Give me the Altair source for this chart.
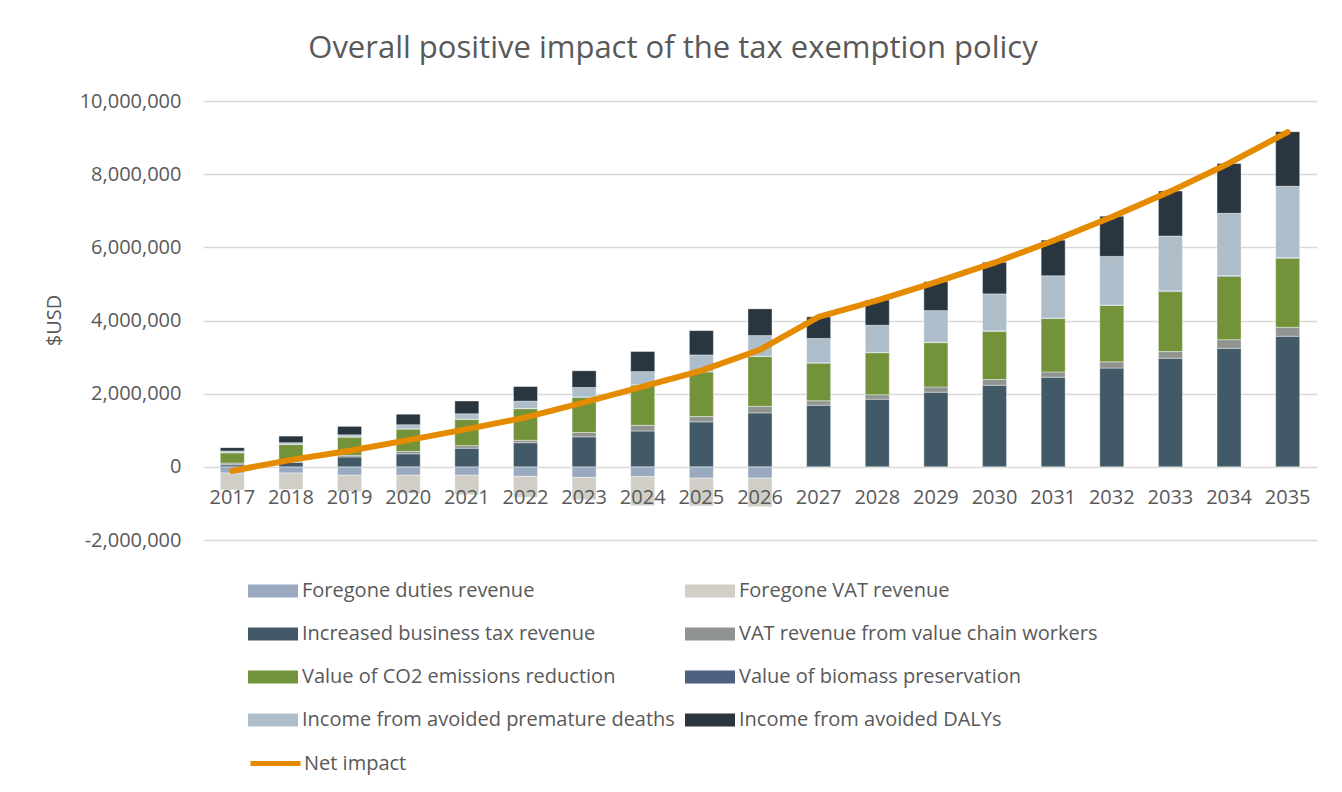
import altair as alt
import pandas as pd

years = [str(y) for y in range(2017, 2036)]

series_names = [
    "Foregone duties revenue",
    "Foregone VAT revenue",
    "Increased business tax revenue",
    "VAT revenue from value chain workers",
    "Value of CO2 emissions reduction",
    "Value of biomass preservation",
    "Income from avoided premature deaths",
    "Income from avoided DALYs",
]
series_colors = ["#9AA9C0", "#D0CEC6", "#425968", "#8F9490", "#72933A", "#4F6180", "#ADBECA", "#29353F"]
# legend reading order (filled column by column, two columns)
legend_order = [0, 2, 4, 6, 1, 3, 5, 7]

foregone_duties = [-170000, -170000, -230000, -230000, -230000, -260000, -290000, -270000, -310000, -310000,
                   0, 0, 0, 0, 0, 0, 0, 0, 0]
foregone_vat = [-460000, -450000, -450000, -500000, -530000, -570000, -610000, -790000, -760000, -780000,
                0, 0, 0, 0, 0, 0, 0, 0, 0]
business_tax = [55000, 120000, 270000, 355000, 510000, 660000, 820000, 980000, 1230000, 1475000,
                1685000, 1850000, 2040000, 2230000, 2450000, 2700000, 2970000, 3240000, 3570000]
vat_workers = [50000, 30000, 45000, 70000, 70000, 65000, 120000, 155000, 145000, 180000,
               120000, 120000, 145000, 155000, 145000, 170000, 180000, 235000, 245000]
co2_reduction = [280000, 460000, 500000, 610000, 720000, 865000, 965000, 1100000, 1220000, 1360000,
                 1030000, 1150000, 1210000, 1320000, 1460000, 1540000, 1640000, 1730000, 1885000]
biomass = [5000, 5000, 5000, 5000, 5000, 5000, 5000, 8000, 8000, 8000,
           10000, 10000, 10000, 12000, 12000, 12000, 20000, 25000, 20000]
premature_deaths = [45000, 45000, 55000, 110000, 145000, 200000, 260000, 360000, 455000, 565000,
                    665000, 740000, 865000, 1010000, 1155000, 1330000, 1500000, 1700000, 1950000]
dalys = [90000, 180000, 230000, 290000, 350000, 400000, 455000, 550000, 665000, 730000,
         590000, 690000, 790000, 865000, 975000, 1100000, 1230000, 1360000, 1490000]
net_impact = [-110000, 190000, 440000, 730000, 1030000, 1350000, 1760000, 2190000, 2630000, 3200000,
              4100000, 4550000, 5050000, 5580000, 6180000, 6830000, 7530000, 8300000, 9150000]

y_ticks = [-2000000, 0, 2000000, 4000000, 6000000, 8000000, 10000000]

all_series = [foregone_duties, foregone_vat, business_tax, vat_workers, co2_reduction,
              biomass, premature_deaths, dalys]
rows = []
for i, (name, vals) in enumerate(zip(series_names, all_series)):
    for yr, v in zip(years, vals):
        if v != 0:
            rows.append({"year": yr, "series": name, "order": i, "value": v})
bars_df = pd.DataFrame(rows)
line_df = pd.DataFrame({"year": years, "value": net_impact, "label": ["Net impact"] * len(years)})

FONT = "Open Sans"
TXT = "#595959"
W, H = 1114, 439
FS = 20

x_enc = alt.X(
    "year:N",
    sort=years,
    scale=alt.Scale(paddingInner=0.59, paddingOuter=0.295),
    axis=alt.Axis(
        title=None, labelAngle=0, domain=False, ticks=False, grid=False,
        offset=-H / 6, labelPadding=21, labelFontSize=FS, labelColor=TXT,
        labelFont=FONT, zindex=1,
    ),
)

bars = alt.Chart(bars_df).mark_bar(stroke="white", strokeWidth=0.4).encode(
    x=x_enc,
    y=alt.Y(
        "sum(value):Q",
        stack="zero",
        scale=alt.Scale(domain=[-2000000, 10000000], nice=False),
        axis=alt.Axis(
            values=y_ticks, labelExpr="replace(format(datum.value, ',d'), '\u2212', '-')",
            title="$USD", grid=True, gridColor="#D9D9D9",
            gridWidth=1.5, domain=False, ticks=False, labelPadding=22, labelFontSize=FS,
            labelColor=TXT, labelFont=FONT, titleFont=FONT, titleFontSize=FS,
            titleColor=TXT, titleFontWeight="normal", titleAngle=270,
            titleX=-149, titleY=219, titleAlign="center", titleBaseline="middle",
        ),
    ),
    color=alt.Color(
        "series:N",
        scale=alt.Scale(domain=[series_names[k] for k in legend_order],
                        range=[series_colors[k] for k in legend_order]),
        legend=alt.Legend(
            title=None, orient="none", legendX=45, legendY=465, columns=2,
            symbolType="M-1,-0.26H1V0.26H-1Z", symbolSize=2500, symbolStrokeWidth=0,
            labelFontSize=FS, labelColor=TXT, labelFont=FONT, labelLimit=600,
            rowPadding=8, columnPadding=10, labelOffset=4, padding=0,
        ),
    ),
    order=alt.Order("order:Q"),
)

line = alt.Chart(line_df).mark_line(strokeWidth=6, strokeCap="round", strokeJoin="round").encode(
    x=alt.X("year:N", sort=years),
    y=alt.Y("value:Q"),
    stroke=alt.Stroke(
        "label:N",
        scale=alt.Scale(domain=["Net impact"], range=["#E48B00"]),
        legend=alt.Legend(
            title=None, orient="none", legendX=45, legendY=635,
            symbolType="stroke", symbolSize=2500, symbolStrokeWidth=5,
            labelFontSize=FS, labelColor=TXT, labelFont=FONT, labelOffset=1, padding=0,
        ),
    ),
)

chart = alt.layer(bars, line).resolve_scale(color="independent").properties(
    width=W,
    height=H,
    padding={"left": 195, "top": 93, "right": 17, "bottom": 244},
    autosize=alt.AutoSizeParams(type="none"),
    title=alt.TitleParams(
        "Overall positive impact of the tax exemption policy",
        anchor="middle", frame="group", dx=-87, offset=2, baseline="alphabetic",
        fontSize=31, font=FONT, color=TXT, fontWeight="normal",
    ),
).configure_view(stroke=None)

chart.save("out.html", embed_options={"renderer": "svg", "actions": False})
